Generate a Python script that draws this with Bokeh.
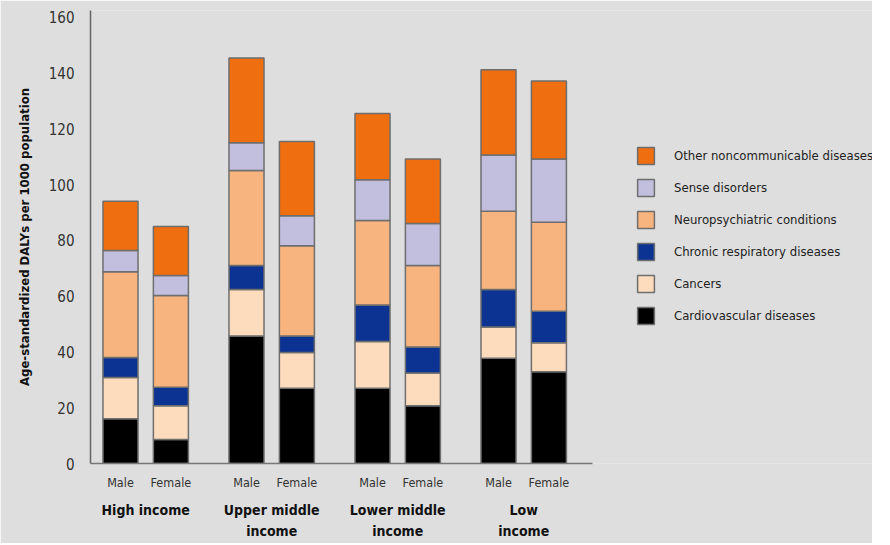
from bokeh.plotting import figure
from bokeh.models import (ColumnDataSource, Range1d, FixedTicker, LinearAxis,
                          Legend, LegendItem)
from bokeh.embed import file_html
from bokeh.resources import INLINE

# ---- data ----
groups = ["High income", "Upper middle\nincome", "Lower middle\nincome", "Low\nincome"]
sexes = ["Male", "Female"]
# bar order: HighM, HighF, UMM, UMF, LMM, LMF, LowM, LowF
cardiovascular = [16.0, 8.6, 45.7, 27.0, 27.0, 20.7, 37.7, 32.9]
cancers = [14.8, 12.1, 16.7, 12.8, 16.7, 11.7, 11.2, 10.4]
chronic_resp = [7.2, 6.6, 8.6, 5.9, 13.1, 9.4, 13.5, 11.3]
neuropsych = [30.7, 32.9, 34.0, 32.4, 30.3, 29.2, 28.0, 31.9]
sense = [7.7, 7.2, 10.0, 10.7, 14.6, 15.0, 20.2, 22.7]
other_ncd = [17.6, 17.6, 30.4, 26.6, 23.8, 23.2, 30.6, 27.9]

series_names = ["Cardiovascular diseases", "Cancers", "Chronic respiratory diseases",
                "Neuropsychiatric conditions", "Sense disorders",
                "Other noncommunicable diseases"]
series_keys = ["cardio", "cancers", "chronic", "neuro", "sense", "other"]
colors = ["#000000", "#FDDCBD", "#0C3391", "#F8B47F", "#C2BFDE", "#EE6E10"]
y_ticks = [0, 20, 40, 60, 80, 100, 120, 140, 160]

# positions (male at 5g, female at 5g+2)
xs = []
for g in range(len(groups)):
    for s in range(len(sexes)):
        xs.append(5 * g + 2 * s)

source = ColumnDataSource(dict(x=xs, cardio=cardiovascular, cancers=cancers,
                               chronic=chronic_resp, neuro=neuropsych,
                               sense=sense, other=other_ncd))

BG = "#DEDEDE"
FONT = "DejaVu Sans Condensed, Roboto Condensed, Roboto"

p = figure(width=872, height=543, output_backend="svg", toolbar_location=None,
           x_range=Range1d(-1.19, 29.84), y_range=Range1d(0, 162.4),
           min_border_left=90, min_border_right=0, min_border_top=10,
           min_border_bottom=80)
p.background_fill_color = BG
p.border_fill_color = BG
p.outline_line_color = None
p.grid.visible = False

renderers = p.vbar_stack(series_keys, x="x", width=1.39, color=colors,
                         line_color="#6E6E6E", line_width=1.5, source=source)

# y axis
yax = p.yaxis[0]
yax.ticker = FixedTicker(ticks=y_ticks)
yax.axis_label = "Age-standardized DALYs per 1000 population"
yax.axis_label_text_font = FONT
yax.axis_label_text_font_style = "bold"
yax.axis_label_text_font_size = "13px"
yax.axis_label_text_color = "#111111"
yax.axis_label_standoff = 14
yax.major_label_text_font = FONT
yax.major_label_text_font_size = "15px"
yax.major_label_text_color = "#333333"
yax.major_tick_out = 0
yax.major_tick_in = 0
yax.minor_tick_out = 0
yax.minor_tick_in = 0
yax.major_label_standoff = 16
yax.axis_line_color = "#666666"
yax.axis_line_width = 1.5

# x axis (Male / Female)
xax = p.xaxis[0]
xax.ticker = FixedTicker(ticks=xs)
xax.major_label_overrides = {x: sexes[i % 2] for i, x in enumerate(xs)}
xax.bounds = (-1.19, 18.73)
xax.major_label_text_font = FONT
xax.major_label_text_font_size = "12.5px"
xax.major_label_text_color = "#333333"
xax.major_tick_out = 0
xax.major_tick_in = 0
xax.minor_tick_out = 0
xax.minor_tick_in = 0
xax.major_label_standoff = 11
xax.axis_line_color = "#777777"
xax.axis_line_width = 1.5

# group axis
group_x = [5 * g + 1 for g in range(len(groups))]
gax = LinearAxis(ticker=FixedTicker(ticks=group_x),
                 major_label_overrides={x: groups[i] for i, x in enumerate(group_x)})
gax.bounds = (-1.19, 18.73)
gax.axis_line_color = None
gax.major_tick_out = 0
gax.major_tick_in = 0
gax.minor_tick_out = 0
gax.minor_tick_in = 0
gax.major_label_standoff = 9
gax.major_label_text_font = FONT
gax.major_label_text_font_style = "bold"
gax.major_label_text_font_size = "14px"
gax.major_label_text_color = "#111111"
gax.major_label_text_line_height = 1.35
p.add_layout(gax, "below")

# legend (top to bottom: reverse of stacking)
items = [LegendItem(label=series_names[i], renderers=[renderers[i]])
         for i in reversed(range(len(series_names)))]
legend = Legend(items=items, location=(545, 137))
legend.background_fill_alpha = 0
legend.border_line_color = None
legend.padding = 0
legend.margin = 0
legend.glyph_width = 21
legend.glyph_height = 21
legend.label_height = 21
legend.spacing = 11
legend.label_standoff = 18
legend.label_text_font = FONT
legend.label_text_font_size = "13px"
legend.label_text_color = "#222222"
p.add_layout(legend)

open("out.html", "w").write(file_html(p, INLINE))
